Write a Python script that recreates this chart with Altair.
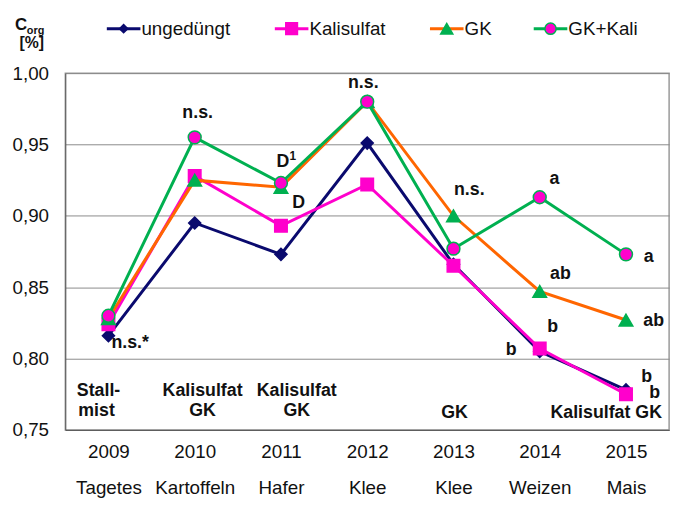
import altair as alt
import pandas as pd

# ---------------- data ----------------
years = ["2009", "2010", "2011", "2012", "2013", "2014", "2015"]
crops = ["Tagetes", "Kartoffeln", "Hafer", "Klee", "Klee", "Weizen", "Mais"]
series = ["ungedüngt", "Kalisulfat", "GK", "GK+Kali"]

ungeduengt = [0.816, 0.895, 0.873, 0.951, 0.866, 0.805, 0.778]
kalisulfat = [0.824, 0.928, 0.893, 0.922, 0.865, 0.807, 0.775]
gk = [0.828, 0.925, 0.920, 0.980, 0.900, 0.847, 0.827]
gk_kali = [0.830, 0.955, 0.923, 0.980, 0.877, 0.913, 0.873]
values = [ungeduengt, kalisulfat, gk, gk_kali]

# significance annotations: (text, year index, y value, x offset)
ann_text = ["n.s.*", "n.s.", "D", "n.s.", "n.s.", "a", "a", "ab", "ab",
            "b", "b", "b", "b"]
ann_idx = [0, 1, 2, 3, 4, 5, 6, 5, 6, 5, 5, 6, 6]
ann_val = [0.811, 0.972, 0.909, 0.993, 0.918, 0.926, 0.871, 0.859, 0.826,
           0.822, 0.806, 0.787, 0.776]
ann_dx = [22, 3, 18, -4, 16, 15, 23, 21, 28, 13, -29, 21, 29]

# fertilisation labels inside the plot
fert_text = ["Stall-", "mist", "Kalisulfat", "GK", "Kalisulfat", "GK", "GK",
             "Kalisulfat GK"]
fert_idx = [0, 0, 1, 1, 2, 2, 4, 6]
fert_val = [0.777, 0.763, 0.777, 0.763, 0.777, 0.763, 0.762, 0.762]
fert_dx = [-10, -12, 8, 8, 16, 16, 1, -20]

# ---------------- styles ----------------
line_colors = ["#0A0A6E", "#FF00CC", "#FF6600", "#00B050"]
shapes = ["diamond", "square", "triangle-up", "circle"]
fills = ["#0A0A6E", "#FF00CC", "#00B050", "#FF00CC"]
strokes = ["#0A0A6E", "#FF00CC", "#00B050", "#00B050"]
sizes = [150, 160, 190, 170]
leg_sizes = [70, 140, 150, 130]
leg_x = [42, 212, 369, 474]
FONT = "Liberation Sans"

cats = [f"{y}|{c}" for y, c in zip(years, crops)]

W, H = 611, 361
xscale = alt.Scale(type="point", padding=0.5, domain=cats)
yscale = alt.Scale(domain=[0.75, 1.0], zero=False, nice=False)

xenc = alt.X("cat:N", scale=xscale, sort=cats,
             axis=alt.Axis(title=None, labelExpr="split(datum.label, '|')",
                           labelLineHeight=36, labelPadding=13, ticks=False,
                           labelFontSize=19, labelFont=FONT, labelColor="#111",
                           labelAngle=0, domainColor="#555", grid=False))
yenc = alt.Y("value:Q", scale=yscale,
             axis=alt.Axis(title=None, values=[0.75, 0.8, 0.85, 0.9, 0.95, 1.0],
                           labelExpr="replace(format(datum.value, '.2f'), '.', ',')",
                           labelFontSize=19, labelFont=FONT, labelColor="#111",
                           ticks=False, labelPadding=17, domainColor="#555",
                           gridColor="#8a8a8a", gridWidth=1))

layers = []
for i, s in enumerate(series):
    df = pd.DataFrame({"cat": cats, "value": values[i], "series": s})
    base = alt.Chart(df)
    layers.append(base.mark_line(color=line_colors[i], strokeWidth=3)
                  .encode(x=xenc, y=yenc))
    layers.append(base.mark_point(shape=shapes[i], filled=True, fill=fills[i],
                                  stroke=strokes[i], strokeWidth=1.5,
                                  size=sizes[i], opacity=1)
                  .encode(x=xenc, y=yenc))

for t, ix, v, dx in zip(ann_text, ann_idx, ann_val, ann_dx):
    d = pd.DataFrame({"cat": [cats[ix]], "value": [v], "t": [t]})
    layers.append(alt.Chart(d).mark_text(fontSize=18, fontWeight="bold", font=FONT,
                                         color="#111", dx=dx, baseline="middle")
                  .encode(x=xenc, y=yenc, text="t:N"))
# D with superscript 1
d = pd.DataFrame({"cat": [cats[2]], "value": [0.938], "t": ["D"]})
layers.append(alt.Chart(d).mark_text(fontSize=18, fontWeight="bold", font=FONT,
                                     color="#111", dx=2, baseline="middle")
              .encode(x=xenc, y=yenc, text="t:N"))
d = pd.DataFrame({"cat": [cats[2]], "value": [0.942], "t": ["1"]})
layers.append(alt.Chart(d).mark_text(fontSize=12, fontWeight="bold", font=FONT,
                                     color="#111", dx=12, baseline="middle")
              .encode(x=xenc, y=yenc, text="t:N"))

for t, ix, v, dx in zip(fert_text, fert_idx, fert_val, fert_dx):
    d = pd.DataFrame({"cat": [cats[ix]], "value": [v], "t": [t]})
    layers.append(alt.Chart(d).mark_text(fontSize=18, fontWeight="bold", font=FONT,
                                         color="#111", dx=dx, baseline="middle")
                  .encode(x=xenc, y=yenc, text="t:N"))

# manual legend
one = pd.DataFrame({"a": [0]})
LY = -45
for i, s in enumerate(series):
    x0 = leg_x[i]
    layers.append(alt.Chart(one).mark_rule(color=line_colors[i], strokeWidth=3)
                  .encode(x=alt.value(x0), x2=alt.value(x0 + 34), y=alt.value(LY)))
    layers.append(alt.Chart(one).mark_point(shape=shapes[i], filled=True, fill=fills[i],
                                            stroke=strokes[i], strokeWidth=1.5,
                                            size=leg_sizes[i], opacity=1)
                  .encode(x=alt.value(x0 + 17), y=alt.value(LY)))
    layers.append(alt.Chart(one).mark_text(text=s, fontSize=19, font=FONT, color="#111",
                                           align="left", baseline="middle")
                  .encode(x=alt.value(x0 + 35), y=alt.value(LY)))

# y-axis title  C_org [%]
layers.append(alt.Chart(one).mark_text(text="C", fontSize=17, fontWeight="bold", font=FONT,
                                       color="#111", align="left", baseline="alphabetic")
              .encode(x=alt.value(-51), y=alt.value(-44)))
layers.append(alt.Chart(one).mark_text(text="org", fontSize=11, fontWeight="bold", font=FONT,
                                       color="#111", align="left", baseline="alphabetic")
              .encode(x=alt.value(-39), y=alt.value(-40)))
layers.append(alt.Chart(one).mark_text(text="[%]", fontSize=16, fontWeight="bold", font=FONT,
                                       color="#111", align="center", baseline="alphabetic")
              .encode(x=alt.value(-34), y=alt.value(-25)))

chart = alt.layer(*layers).properties(
    width=W, height=H,
    autosize=alt.AutoSizeParams(type="none"),
    padding={"left": 58, "top": 63, "right": 9, "bottom": 66},
).configure_view(stroke="#999", strokeWidth=1.5)

chart.save("out.html", embed_options={"renderer": "svg", "actions": False})
